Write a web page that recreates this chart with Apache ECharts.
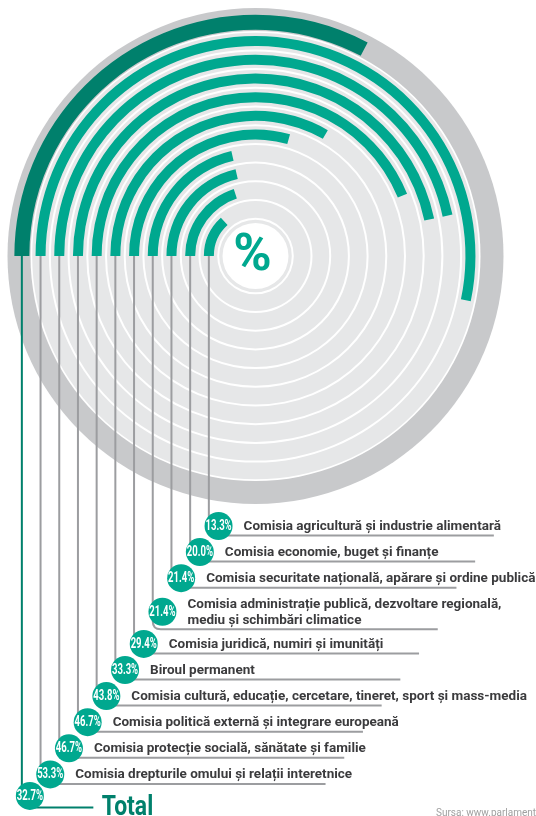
<!DOCTYPE html>
<html><head><meta charset="utf-8">
<script src="https://cdn.jsdelivr.net/npm/echarts@6/dist/echarts.min.js"></script>
<style>html,body{margin:0;padding:0;background:#fff}#c{width:536px;height:816px}</style>
</head><body><div id="c"></div>
<script>
// ---- data ----
const categories = [
  'Comisia agricultură și industrie alimentară',
  'Comisia economie, buget și finanțe',
  'Comisia securitate națională, apărare și ordine publică',
  'Comisia administrație publică, dezvoltare regională,\nmediu și schimbări climatice',
  'Comisia juridică, numiri și imunități',
  'Biroul permanent',
  'Comisia cultură, educație, cercetare, tineret, sport și mass-media',
  'Comisia politică externă și integrare europeană',
  'Comisia protecție socială, sănătate și familie',
  'Comisia drepturile omului și relații interetnice'
];
const committeeValues = [13.3, 20.0, 21.4, 21.4, 29.4, 33.3, 43.8, 46.7, 46.7, 53.3];
const totalLabel = 'Total';
const totalValue = 32.7;
const centerSymbol = '%';
const sourceText = 'Sursa: www.parlament.md';

// ---- layout / style ----
const CX = 255.5, CY = 256;
const R_IN = 37.3, R_OUT = 243;
const TEAL = '#00a88f', TEAL_DARK = '#00806c';
const GRAY_DARK = '#c8c9cb', GRAY_LIGHT = '#e6e7e8', LINE_GRAY = '#9c9da0', TEXT = '#3b3b3d';
const FONT = "Roboto, 'Liberation Sans', sans-serif";

const allCats = categories.concat([totalLabel]);
const nC = categories.length;

// row layout for the labels below the disk
const rows = [];
(function () {
  let y = 526;
  categories.forEach((c, i) => {
    const two = c.indexOf('\n') >= 0;
    if (i > 0) y += 26.1;
    if (two) y += 7.5;
    rows.push({ cy: y, uy: y + (two ? 17.5 : 9.5), two: two });
    if (two) y += 6;
  });
  rows.push({ cy: y + 21.5, uy: y + 33.1, two: false });
})();

const chart = echarts.init(document.getElementById('c'), null, { renderer: 'canvas' });

const polars = [0, 1, 2].map(() => ({ center: [CX, CY], radius: [R_IN, R_OUT] }));
const angleAxes = [0, 1, 2].map(i => ({ polarIndex: i, type: 'value', min: 0, max: 100, startAngle: 180, clockwise: true, show: false }));
const radiusAxes = [0, 1, 2].map(i => ({ polarIndex: i, type: 'category', data: allCats, show: false }));

function disk(r0, r1, color, z) {
  return {
    type: 'pie', silent: true, center: [CX, CY], radius: [r0, r1], z: z,
    label: { show: false }, labelLine: { show: false },
    itemStyle: { color: color, borderWidth: 0 },
    data: [{ value: 1 }]
  };
}

const option = {
  animation: false,
  backgroundColor: '#ffffff',
  polar: polars,
  angleAxis: angleAxes,
  radiusAxis: radiusAxes,
  series: [
    disk(0, 248, GRAY_DARK, 0),
    disk(0, 225, '#ffffff', 0.5),
    disk(33, 36.3, GRAY_LIGHT, 0.8),
    {
      type: 'bar', coordinateSystem: 'polar', polarIndex: 0, silent: true, z: 1,
      barWidth: 16.7, itemStyle: { color: GRAY_LIGHT },
      data: categories.map(() => 100).concat(['-'])
    },
    {
      type: 'bar', coordinateSystem: 'polar', polarIndex: 1, silent: true, z: 3,
      barWidth: 10, itemStyle: { color: TEAL },
      data: committeeValues.concat(['-'])
    },
    {
      type: 'bar', coordinateSystem: 'polar', polarIndex: 2, silent: true, z: 3,
      barWidth: 15, itemStyle: { color: TEAL_DARK },
      data: categories.map(() => '-').concat([totalValue])
    },
    {
      type: 'custom', coordinateSystem: 'polar', polarIndex: 1, silent: true, z: 5,
      data: allCats.map((c, i) => [i, 0]),
      renderItem: function (params, api) {
        const i = params.dataIndex;
        const p = api.coord([api.value(0), api.value(1)]);
        const x = p[0], y0 = p[1];
        const isTotal = i === nC;
        const row = rows[i];
        const rc = 8;
        const endX = isTotal ? x + 71.5 : x + 285;
        const color = isTotal ? TEAL_DARK : LINE_GRAY;
        const circX = x + (isTotal ? 8 : 9.7);
        const val = isTotal ? totalValue : committeeValues[i];
        const children = [
          {
            type: 'path',
            shape: { pathData: 'M' + x + ' ' + y0 + ' L' + x + ' ' + (row.uy - rc) + ' Q' + x + ' ' + row.uy + ' ' + (x + rc) + ' ' + row.uy + ' L' + endX + ' ' + row.uy },
            style: { fill: null, stroke: color, lineWidth: 2 }
          },
          { type: 'circle', shape: { cx: circX, cy: row.cy, r: 14 }, style: { fill: TEAL } },
          {
            type: 'text', x: circX, y: row.cy + 0.5, scaleX: 0.68,
            style: { text: val.toFixed(1) + '%', fill: '#ffffff', font: 'bold 14px ' + FONT, align: 'center', verticalAlign: 'middle' }
          }
        ];
        if (isTotal) {
          children.push({
            type: 'text', x: x + 80, y: 808, scaleX: 0.85,
            style: { text: totalLabel, fill: TEAL_DARK, font: 'bold 27px ' + FONT, align: 'left', verticalAlign: 'middle' }
          });
        } else {
          children.push({
            type: 'text', x: circX + 25, y: row.cy + 0.5,
            style: { text: categories[i], fill: TEXT, font: 'bold 13.5px ' + FONT, lineHeight: 16, align: 'left', verticalAlign: 'middle' }
          });
        }
        return { type: 'group', children: children };
      }
    }
  ],
  graphic: [
    {
      type: 'text', x: CX - 3, y: CY + 1, z: 10,
      style: { text: centerSymbol, fill: TEAL, font: 'bold 52px ' + FONT, align: 'center', verticalAlign: 'middle' }
    },
    {
      type: 'text', x: 436, y: 813, z: 10,
      style: { text: sourceText, fill: '#a0a0a0', font: '10px ' + FONT, align: 'left', verticalAlign: 'middle' }
    }
  ]
};
chart.setOption(option);
</script>
</body></html>
